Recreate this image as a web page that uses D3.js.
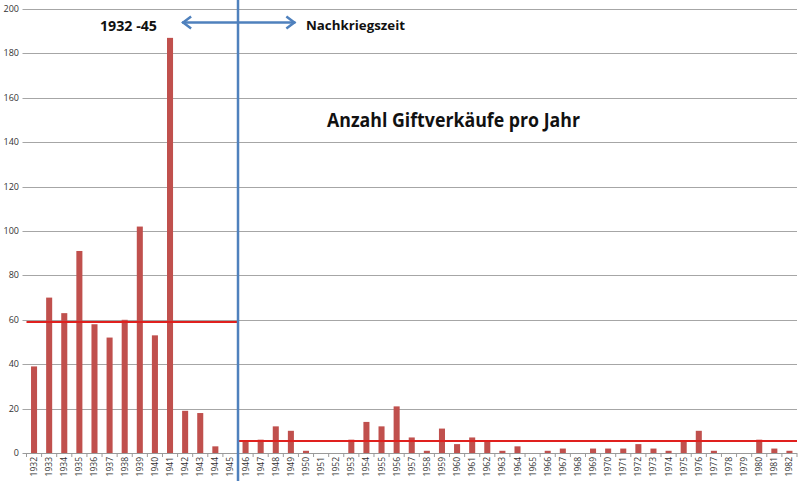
<!DOCTYPE html>
<html>
<head>
<meta charset="utf-8">
<script src="https://cdn.jsdelivr.net/npm/d3@7"></script>
<style>
  body { margin: 0; background: #fff; }
  svg { display: block; font-family: "Open Sans", "Liberation Sans", sans-serif; }
</style>
</head>
<body>
<svg id="chart" width="800" height="481"></svg>
<script>
// years shown on the x axis
const years = d3.range(1932, 1983).map(String);

// poison sales per year
const sales = [
  39, 70, 63, 91, 58, 52, 60, 102, 53, 187, 19, 18, 3, 0,      // 1932-45
  5, 6, 12, 10, 1, 0, 0, 6, 14, 12, 21, 7, 1, 11, 4, 7, 5, 1,  // 1946-63
  3, 0, 1, 2, 0, 2, 2, 2, 4, 2, 1, 5, 10, 1, 0, 0, 6, 2, 1     // 1964-82
];

// average lines: [first year, last year, value]
const averages = [
  ["1932", "1945", 59],
  ["1946", "1982", 5.4]
];

const yTicks = d3.range(0, 201, 20);

const width = 800, height = 481;
const margin = { top: 9, right: 3, bottom: 28, left: 26.5 };

const svg = d3.select("#chart");

const x = d3.scaleBand()
  .domain(years)
  .range([margin.left, width - margin.right])
  .paddingInner(0.6)
  .paddingOuter(0.3);

const y = d3.scaleLinear()
  .domain([0, 200])
  .range([height - margin.bottom, margin.top]);

// horizontal grid
svg.append("g")
  .selectAll("line")
  .data(yTicks)
  .join("line")
  .attr("x1", margin.left - 4)
  .attr("x2", width - margin.right)
  .attr("y1", d => Math.round(y(d)) + 0.5)
  .attr("y2", d => Math.round(y(d)) + 0.5)
  .attr("stroke", d => d === 0 ? "#9a9a9a" : "#a6a6a6")
  .attr("stroke-width", 1.2);

// y tick labels
svg.append("g")
  .selectAll("text")
  .data(yTicks)
  .join("text")
  .attr("x", 19)
  .attr("y", d => y(d) + 3)
  .attr("text-anchor", "end")
  .attr("font-size", 9)
  .attr("fill", "#333")
  .text(d => d);

// x ticks between categories
const step = x.step();
const bounds = d3.range(years.length + 1).map(i => x.range()[0] + i * step);
svg.append("g")
  .selectAll("line")
  .data(bounds)
  .join("line")
  .attr("x1", d => d)
  .attr("x2", d => d)
  .attr("y1", y(0))
  .attr("y2", y(0) + 4)
  .attr("stroke", "#9a9a9a");

// x labels, rotated
svg.append("g")
  .selectAll("text")
  .data(years)
  .join("text")
  .attr("transform", d => `translate(${x(d) + x.bandwidth() / 2 + 3},${y(0) + 4}) rotate(-90)`)
  .attr("text-anchor", "end")
  .attr("font-size", 8.5)
  .attr("fill", "#333")
  .text(d => d);

// bars
svg.append("g")
  .selectAll("rect")
  .data(sales)
  .join("rect")
  .attr("x", (d, i) => x(years[i]))
  .attr("y", d => y(d))
  .attr("width", x.bandwidth())
  .attr("height", d => y(0) - y(d))
  .attr("fill", "#c0504d");

// average lines
svg.append("g")
  .selectAll("line")
  .data(averages)
  .join("line")
  .attr("x1", (d, i) => i === 0 ? x.range()[0] : x(d[0]) - (step - x.bandwidth()) / 2)
  .attr("x2", (d, i) => i === 0 ? x(d[1]) + x.bandwidth() + (step - x.bandwidth()) / 2 : x.range()[1])
  .attr("y1", d => y(d[2]))
  .attr("y2", d => y(d[2]))
  .attr("stroke", "#e0201e")
  .attr("stroke-width", 2);

// divider between 1945 and 1946
const divX = x("1946") - (step - x.bandwidth()) / 2;
svg.append("line")
  .attr("x1", divX).attr("x2", divX)
  .attr("y1", 0).attr("y2", height)
  .attr("stroke", "#4f81bd")
  .attr("stroke-width", 2.5);

// double arrow
const arrowY = 22.5;
const ax0 = x("1942"), ax1 = x("1949") + 7.5;
svg.append("line")
  .attr("x1", ax0).attr("x2", ax1)
  .attr("y1", arrowY).attr("y2", arrowY)
  .attr("stroke", "#4f81bd")
  .attr("stroke-width", 2.5);
svg.append("path")
  .attr("d", `M${ax0 + 9},${arrowY - 6} L${ax0 + 1},${arrowY} L${ax0 + 9},${arrowY + 6}`)
  .attr("fill", "none")
  .attr("stroke", "#4f81bd")
  .attr("stroke-width", 2.5);
svg.append("path")
  .attr("d", `M${ax1 - 9},${arrowY - 6} L${ax1 - 1},${arrowY} L${ax1 - 9},${arrowY + 6}`)
  .attr("fill", "none")
  .attr("stroke", "#4f81bd")
  .attr("stroke-width", 2.5);

// annotations
svg.append("text")
  .attr("x", 100).attr("y", 31)
  .attr("font-size", 14.5)
  .attr("font-weight", "bold")
  .attr("fill", "#111")
  .attr("textLength", 57)
  .attr("lengthAdjust", "spacingAndGlyphs")
  .text("1932 -45");

svg.append("text")
  .attr("x", 306).attr("y", 30)
  .attr("font-size", 13)
  .attr("font-weight", "bold")
  .attr("fill", "#111")
  .attr("textLength", 99)
  .attr("lengthAdjust", "spacingAndGlyphs")
  .text("Nachkriegszeit");

svg.append("text")
  .attr("x", 327).attr("y", 127)
  .attr("font-size", 19)
  .attr("font-weight", "bold")
  .attr("fill", "#111")
  .attr("textLength", 253)
  .attr("lengthAdjust", "spacingAndGlyphs")
  .text("Anzahl Giftverkäufe pro Jahr");
</script>
</body>
</html>
